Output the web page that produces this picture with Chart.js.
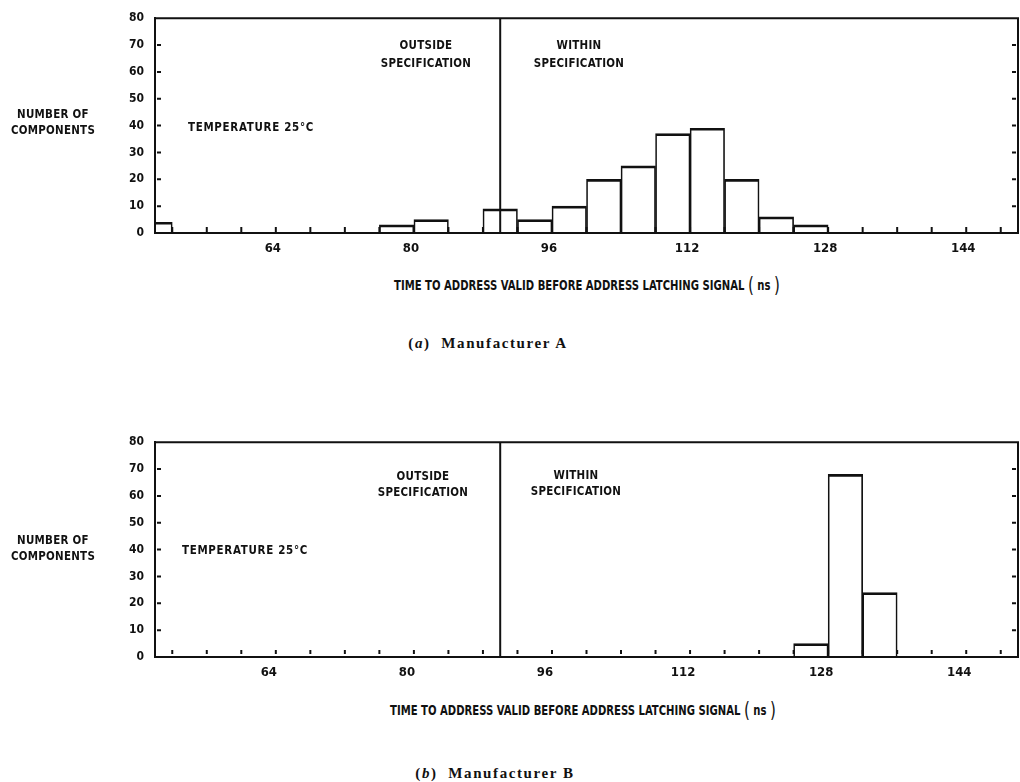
<!DOCTYPE html>
<html>
<head>
<meta charset="utf-8">
<script src="https://cdn.jsdelivr.net/npm/chart.js@4.4.1/dist/chart.umd.min.js"></script>
<style>
    body {
        margin: 0;
        background: #fff;
    }
    #page {
        position: relative;
        width: 1020px;
        height: 782px;
        overflow: hidden;
        color: #111;
    }
    canvas {
        position: absolute;
        left: 0;
    }
    .lbl {
        position: absolute;
        transform: translate(-50%, -50%) scaleX(0.88);
        font-family: "Liberation Sans Narrow", "DejaVu Sans Condensed", sans-serif;
        font-weight: bold;
        font-size: 13px;
        letter-spacing: 0.3px;
        line-height: 16px;
        text-align: center;
        white-space: nowrap;
    }
    .axis-title {
        position: absolute;
        transform: translate(-50%, -50%) scaleX(0.8);
        font-family: "Liberation Sans Narrow", "DejaVu Sans Condensed", sans-serif;
        font-weight: bold;
        font-size: 14px;
        white-space: nowrap;
    }
    .axis-title .paren {
        font-size: 21px;
        font-weight: normal;
        vertical-align: -2px;
    }
    .caption {
        position: absolute;
        transform: translate(-50%, -50%);
        font-family: "Liberation Serif", serif;
        font-weight: bold;
        font-size: 15px;
        letter-spacing: 1.6px;
        white-space: nowrap;
    }
</style>
</head>
<body>
<div id="page">
    <canvas id="chart-a" width="1020" height="262" style="top:0px"></canvas>
    <canvas id="chart-b" width="1020" height="262" style="top:424px"></canvas>

    <div class="lbl" style="left:53px; top:122px">NUMBER OF<br>COMPONENTS</div>
    <div class="lbl" style="left:251px; top:127px; letter-spacing:0.8px">TEMPERATURE 25°C</div>
    <div class="lbl" style="left:426px; top:54px; line-height:18px">OUTSIDE<br>SPECIFICATION</div>
    <div class="lbl" style="left:579px; top:54px; line-height:18px">WITHIN<br>SPECIFICATION</div>
    <div class="axis-title" style="left:587px; top:285px">TIME TO ADDRESS VALID BEFORE ADDRESS LATCHING SIGNAL <span class="paren">(</span> ns <span class="paren">)</span></div>
    <div class="caption" style="left:488px; top:343px">(<i>a</i>)&nbsp; Manufacturer A</div>

    <div class="lbl" style="left:53px; top:548px">NUMBER OF<br>COMPONENTS</div>
    <div class="lbl" style="left:245px; top:550px; letter-spacing:0.8px">TEMPERATURE 25°C</div>
    <div class="lbl" style="left:423px; top:484px">OUTSIDE<br>SPECIFICATION</div>
    <div class="lbl" style="left:576px; top:483px">WITHIN<br>SPECIFICATION</div>
    <div class="axis-title" style="left:583px; top:710px">TIME TO ADDRESS VALID BEFORE ADDRESS LATCHING SIGNAL <span class="paren">(</span> ns <span class="paren">)</span></div>
    <div class="caption" style="left:495px; top:773px">(<i>b</i>)&nbsp; Manufacturer B</div>
</div>

<script>
// 4 ns bins, value = bin centre (ns)
const binCenters = [50, 54, 58, 62, 66, 70, 74, 78, 82, 86, 90, 94, 98, 102, 106, 110, 114, 118, 122, 126, 130, 134, 138, 142, 146, 150];

// number of components per bin
const countsA = [4, 0, 0, 0, 0, 0, 0, 3, 5, 0, 9, 5, 10, 20, 25, 37, 39, 20, 6, 3, 0, 0, 0, 0, 0, 0];
const countsB = [0, 0, 0, 0, 0, 0, 0, 0, 0, 0, 0, 0, 0, 0, 0, 0, 0, 0, 0, 5, 68, 24, 0, 0, 0, 0];

const xLabelValues = [64, 80, 96, 112, 128, 144];
const xMin = 50;
const xMax = 150;
const yMax = 80;
const specLimit = 90;

const ink = "#111";
const fontFamily = "'Liberation Sans Narrow', 'DejaVu Sans Condensed', sans-serif";

// minor tick every 4 ns inside the frame
const xTickValues = [];
for (let v = 52; v < xMax; v += 4) {
    xTickValues.push(v);
}

// frame, spec line and the small inward tick marks
const frameAndTicks = {
    id: "frameAndTicks",
    afterDatasetsDraw(chart, args, opts) {
        const { ctx, chartArea: a, scales: { x, y } } = chart;
        ctx.save();
        ctx.strokeStyle = ink;
        ctx.lineWidth = 2;

        ctx.beginPath();
        ctx.moveTo(a.left, a.top);
        ctx.lineTo(a.right, a.top);
        ctx.lineTo(a.right, a.bottom);
        ctx.stroke();

        const sx = x.getPixelForValue(specLimit);
        ctx.beginPath();
        ctx.moveTo(sx, a.top);
        ctx.lineTo(sx, a.bottom);
        ctx.stroke();

        for (const t of x.ticks) {
            const px = x.getPixelForValue(t.value);
            ctx.beginPath();
            ctx.moveTo(px, a.bottom - opts.xTickGap);
            ctx.lineTo(px, a.bottom - opts.xTickGap - opts.xTickLen);
            ctx.stroke();
        }

        for (const t of y.ticks) {
            if (t.value === 0 || t.value === yMax) continue;
            const py = y.getPixelForValue(t.value);
            ctx.beginPath();
            ctx.moveTo(a.left + 2, py);
            ctx.lineTo(a.left + 6, py);
            ctx.moveTo(a.right - 2, py);
            ctx.lineTo(a.right - 6, py);
            ctx.stroke();
        }
        ctx.restore();
    }
};

function makeChart(canvasId, counts, labelShift, tickStyle) {
    const points = binCenters.map((c, i) => ({ x: c, y: counts[i] }));
    return new Chart(document.getElementById(canvasId), {
        type: "bar",
        data: {
            datasets: [{
                data: points,
                backgroundColor: "rgba(255,255,255,0)",
                borderColor: ink,
                borderWidth: { top: 2, left: 1, right: 1, bottom: 0 },
                barPercentage: 1,
                categoryPercentage: 1
            }]
        },
        options: {
            responsive: false,
            animation: false,
            devicePixelRatio: 1,
            layout: { padding: { top: 15, right: 2, left: 0, bottom: 0 } },
            plugins: {
                legend: { display: false },
                tooltip: { enabled: false },
                frameAndTicks: tickStyle
            },
            scales: {
                x: {
                    type: "linear",
                    offset: false,
                    min: xMin,
                    max: xMax,
                    afterBuildTicks: (axis) => {
                        axis.ticks = xTickValues.map(v => ({ value: v }));
                    },
                    afterFit: (axis) => {
                        axis.height = 29;
                    },
                    grid: { display: false, drawTicks: false },
                    border: { display: true, color: ink, width: 2 },
                    ticks: {
                        autoSkip: false,
                        maxRotation: 0,
                        padding: 8,
                        labelOffset: labelShift,
                        color: ink,
                        font: { family: fontFamily, size: 13, weight: "bold" },
                        callback: (v) => xLabelValues.includes(v) ? String(v) : ""
                    }
                },
                y: {
                    min: 0,
                    max: yMax,
                    afterFit: (axis) => {
                        axis.width = 155;
                    },
                    grid: { display: false, drawTicks: false },
                    border: { display: true, color: ink, width: 2 },
                    ticks: {
                        stepSize: 10,
                        padding: 11,
                        color: ink,
                        font: { family: fontFamily, size: 12, weight: "bold" }
                    }
                }
            }
        },
        plugins: [frameAndTicks]
    });
}

const chartA = makeChart("chart-a", countsA, -3, { xTickLen: 6, xTickGap: 0 });
const chartB = makeChart("chart-b", countsB, -7, { xTickLen: 4, xTickGap: 3 });
</script>
</body>
</html>
